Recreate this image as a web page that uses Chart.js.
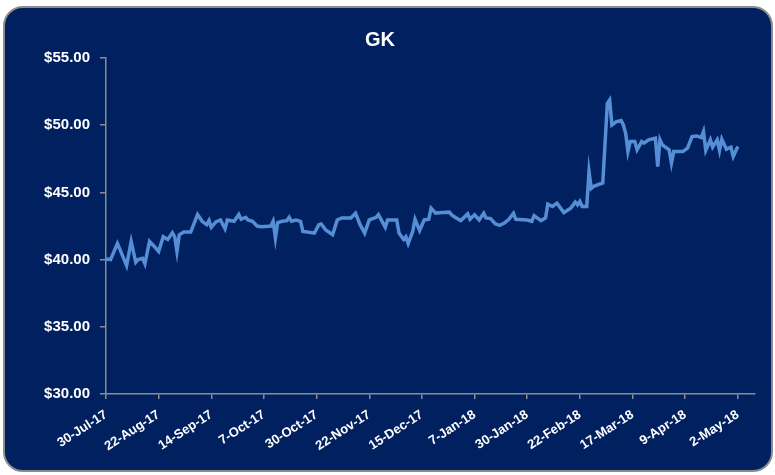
<!DOCTYPE html>
<html lang="en">
<head>
    <meta charset="UTF-8">
    <title>GK</title>
    <script src="https://cdn.jsdelivr.net/npm/chart.js@4.4.0/dist/chart.umd.min.js"></script>
    <style>
        html, body { margin: 0; padding: 0; background: #ffffff; }
        .frame {
            position: absolute;
            left: 3px;
            top: 6px;
            width: 766px;
            height: 462px;
            background: #002060;
            border: 2px solid #8c8c8c;
            border-radius: 20px;
        }
        .frame canvas { display: block; }
    </style>
</head>
<body>
<div class="frame"><canvas id="chart"></canvas></div>
<script>
  const dates = [
    '2017-07-30','2017-08-01','2017-08-04','2017-08-05','2017-08-08','2017-08-10','2017-08-12','2017-08-13',
    '2017-08-15','2017-08-16','2017-08-18','2017-08-20','2017-08-22','2017-08-24','2017-08-26','2017-08-28',
    '2017-08-29','2017-08-30','2017-08-31','2017-09-02','2017-09-05','2017-09-08','2017-09-10','2017-09-12',
    '2017-09-13','2017-09-14','2017-09-16','2017-09-18','2017-09-20','2017-09-21','2017-09-24','2017-09-26',
    '2017-09-27','2017-09-29','2017-09-30','2017-10-02','2017-10-04','2017-10-06','2017-10-10','2017-10-11',
    '2017-10-12','2017-10-13','2017-10-15','2017-10-17','2017-10-18','2017-10-19','2017-10-21','2017-10-23',
    '2017-10-24','2017-10-26','2017-10-29','2017-10-31','2017-11-01','2017-11-03','2017-11-06','2017-11-08',
    '2017-11-10','2017-11-14','2017-11-16','2017-11-18','2017-11-20','2017-11-22','2017-11-25','2017-11-26',
    '2017-11-29','2017-11-30','2017-12-04','2017-12-05','2017-12-07','2017-12-08','2017-12-09','2017-12-11',
    '2017-12-12','2017-12-14','2017-12-16','2017-12-18','2017-12-19','2017-12-21','2017-12-24','2017-12-27',
    '2017-12-28','2017-12-30','2018-01-01','2018-01-04','2018-01-05','2018-01-07','2018-01-09','2018-01-11',
    '2018-01-12','2018-01-14','2018-01-16','2018-01-18','2018-01-20','2018-01-22','2018-01-24','2018-01-25',
    '2018-01-30','2018-02-01','2018-02-02','2018-02-05','2018-02-07','2018-02-08','2018-02-10','2018-02-12',
    '2018-02-15','2018-02-18','2018-02-20','2018-02-21','2018-02-22','2018-02-23','2018-02-25','2018-02-26',
    '2018-02-27','2018-02-28','2018-03-04','2018-03-06','2018-03-07','2018-03-08','2018-03-10','2018-03-12',
    '2018-03-13','2018-03-14','2018-03-15','2018-03-16','2018-03-18','2018-03-19','2018-03-21','2018-03-22',
    '2018-03-24','2018-03-27','2018-03-28','2018-03-29','2018-03-30','2018-04-02','2018-04-03','2018-04-04',
    '2018-04-08','2018-04-10','2018-04-12','2018-04-14','2018-04-16','2018-04-17','2018-04-18','2018-04-20',
    '2018-04-21','2018-04-23','2018-04-24','2018-04-25','2018-04-27','2018-04-29','2018-04-30','2018-05-02'
  ];

  const prices = [
    40.05, 40.00, 41.20, 40.80, 39.55, 41.35, 39.80, 40.00,
    40.10, 39.70, 41.35, 41.00, 40.60, 41.70, 41.50, 42.00,
    41.70, 40.60, 41.85, 42.05, 42.05, 43.35, 42.85, 42.60,
    42.90, 42.40, 42.80, 42.95, 42.30, 42.95, 42.85, 43.35,
    43.00, 43.15, 42.95, 42.85, 42.50, 42.45, 42.50, 42.85,
    41.60, 42.75, 42.85, 42.90, 43.15, 42.85, 42.95, 42.85,
    42.10, 42.05, 41.97, 42.60, 42.65, 42.20, 41.85, 42.95,
    43.10, 43.10, 43.45, 42.60, 41.97, 42.95, 43.15, 43.35,
    42.40, 42.95, 42.95, 41.97, 41.50, 41.70, 41.20, 42.10,
    43.00, 42.17, 42.95, 43.00, 43.83, 43.46, 43.50, 43.53,
    43.33, 43.10, 42.90, 43.40, 43.00, 43.33, 42.95, 43.45,
    43.10, 43.05, 42.67, 42.55, 42.72, 43.00, 43.45, 43.00,
    42.95, 42.85, 43.27, 42.90, 43.10, 44.13, 43.95, 44.20,
    43.50, 43.83, 44.28, 44.08, 44.33, 43.95, 43.95, 46.55,
    45.30, 45.45, 45.70, 51.63, 51.88, 50.02, 50.27, 50.35,
    50.02, 49.40, 48.04, 48.78, 48.78, 48.17, 48.78, 48.66,
    48.91, 49.03, 46.92, 48.91, 48.54, 48.17, 47.18, 48.04,
    48.04, 48.29, 49.15, 49.20, 49.08, 49.53, 48.12, 48.91,
    48.37, 48.91, 48.12, 48.96, 48.22, 48.37, 47.67, 48.41
  ];

  const tickLabels = [
    '30-Jul-17', '22-Aug-17', '14-Sep-17', '7-Oct-17', '30-Oct-17', '22-Nov-17', '15-Dec-17',
    '7-Jan-18', '30-Jan-18', '22-Feb-18', '17-Mar-18', '9-Apr-18', '2-May-18'
  ];

  const yTicks = [30, 35, 40, 45, 50, 55];

  const MONTHS = ['Jan','Feb','Mar','Apr','May','Jun','Jul','Aug','Sep','Oct','Nov','Dec'];
  const DAY = 86400000;
  const start = Date.UTC(2017, 6, 30);

  function dayFromIso(s) {
    const p = s.split('-').map(Number);
    return (Date.UTC(p[0], p[1] - 1, p[2]) - start) / DAY;
  }

  function dayFromLabel(s) {
    const p = s.split('-');
    return (Date.UTC(2000 + Number(p[2]), MONTHS.indexOf(p[1]), Number(p[0])) - start) / DAY;
  }

  const points = dates.map((d, i) => ({ x: dayFromIso(d), y: prices[i] }));
  const tickDays = tickLabels.map(dayFromLabel);

  const axisGray = '#8c8c8c';
  const font = "'Liberation Sans', Arial, sans-serif";

  new Chart(document.getElementById('chart'), {
    type: 'line',
    data: {
      datasets: [{
        data: points,
        borderColor: '#558ed5',
        borderWidth: 3.5,
        pointRadius: 0,
        tension: 0,
        fill: false
      }]
    },
    options: {
      responsive: true,
      maintainAspectRatio: false,
      animation: false,
      layout: { padding: { left: 0, right: 16, top: 0, bottom: 0 } },
      plugins: {
        legend: { display: false },
        tooltip: { enabled: false },
        title: {
          display: true,
          text: 'GK',
          color: '#ffffff',
          font: { family: font, size: 20, weight: 'bold' },
          padding: { top: 20, bottom: 6 }
        }
      },
      scales: {
        x: {
          type: 'linear',
          min: 0,
          max: 283.5,
          afterBuildTicks: scale => { scale.ticks = tickDays.map(v => ({ value: v })); },
          afterFit: scale => { scale.height = 76; },
          ticks: {
            autoSkip: false,
            minRotation: 33,
            maxRotation: 33,
            padding: 8,
            color: '#ffffff',
            font: { family: font, size: 13, weight: 'bold' },
            callback: (v, i) => tickLabels[i]
          },
          grid: {
            drawOnChartArea: false,
            drawTicks: true,
            tickLength: 5,
            color: axisGray,
            lineWidth: 1.5
          },
          border: { display: true, color: axisGray, width: 1.5 }
        },
        y: {
          min: 30,
          max: 55,
          afterBuildTicks: scale => { scale.ticks = yTicks.map(v => ({ value: v })); },
          afterFit: scale => { scale.width = 101; },
          ticks: {
            padding: 10,
            color: '#ffffff',
            font: { family: font, size: 15, weight: 'bold' },
            callback: v => '$' + Number(v).toFixed(2)
          },
          grid: {
            drawOnChartArea: false,
            drawTicks: true,
            tickLength: 6,
            color: axisGray,
            lineWidth: 1.5
          },
          border: { display: true, color: axisGray, width: 1.5 }
        }
      }
    }
  });
</script>
</body>
</html>
